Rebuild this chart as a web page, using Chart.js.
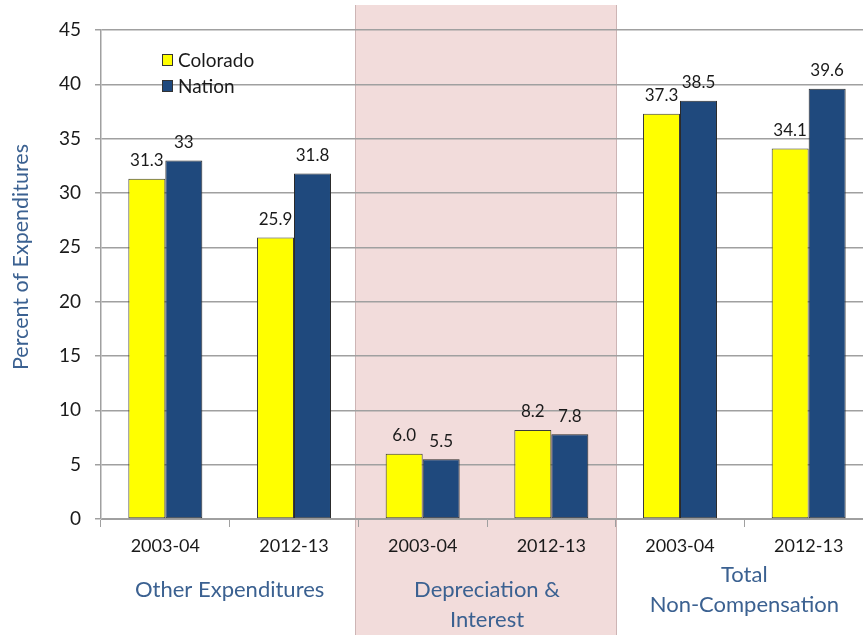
<!DOCTYPE html>
<html>
<head>
<meta charset="utf-8">
<script src="https://cdn.jsdelivr.net/npm/chart.js@4"></script>
<style>
  html, body { margin: 0; padding: 0; background: #fff; overflow: hidden; }
  /* la zone de trace deborde un peu a droite de la fenetre */
  #wrap { width: 873px; height: 635px; }
</style>
</head>
<body>
<div id="wrap"><canvas id="depenses"></canvas></div>
<script>
// donnees
const years = ['2003-04', '2012-13', '2003-04', '2012-13', '2003-04', '2012-13'];
const groups = [['Other Expenditures'], ['Depreciation &', 'Interest'], ['Total', 'Non-Compensation']];
const colorado = [31.3, 25.9, 6.0, 8.2, 37.3, 34.1];
const nation = [33, 31.8, 5.5, 7.8, 38.5, 39.6];
const decimals = [null, null, 1, 1, null, null]; // affichage des etiquettes
const yTicks = [0, 5, 10, 15, 20, 25, 30, 35, 40, 45];

const FONT = 'Lato, "DejaVu Sans", sans-serif';
const BLUE_TXT = '#3b6191';

function fmt(v, i) {
    return decimals[i] === null ? String(v) : v.toFixed(decimals[i]);
}

// bande rose derriere le groupe du milieu
const bandPlugin = {
    id: 'band',
    beforeDraw(chart) {
        const x = chart.scales.x;
        const half = (x.getPixelForValue(1) - x.getPixelForValue(0)) / 2;
        const left = Math.round(x.getPixelForValue(2) - half - 3);
        const right = Math.round(x.getPixelForValue(3) + half);
        const ctx = chart.ctx;
        ctx.save();
        ctx.fillStyle = '#f2dcdb';
        ctx.fillRect(left, 5, right - left, chart.height - 5);
        ctx.strokeStyle = '#cdb5b5';
        ctx.lineWidth = 1;
        ctx.beginPath();
        ctx.moveTo(left + 0.5, 5); ctx.lineTo(left + 0.5, chart.height);
        ctx.moveTo(right + 0.5, 5); ctx.lineTo(right + 0.5, chart.height);
        ctx.stroke();
        ctx.restore();
    }
};

// etiquettes, legende, titres de groupes
const textPlugin = {
    id: 'texts',
    afterDatasetsDraw(chart) {
        const ctx = chart.ctx;
        ctx.save();
        ctx.fillStyle = '#1a1a1a';
        ctx.font = '17px ' + FONT;
        ctx.textAlign = 'center';
        ctx.textBaseline = 'middle';
        chart.data.datasets.forEach((ds, d) => {
            chart.getDatasetMeta(d).data.forEach((bar, i) => {
                ctx.fillText(fmt(ds.data[i], i), bar.x, bar.y - 18);
            });
        });

        // legende
        ctx.textAlign = 'left';
        ctx.font = '19px ' + FONT;
        chart.data.datasets.forEach((ds, d) => {
            const y = 60 + d * 26;
            ctx.fillStyle = ds.backgroundColor;
            ctx.fillRect(162, y - 6, 11, 12);
            ctx.strokeStyle = '#333';
            ctx.lineWidth = 1;
            ctx.strokeRect(162.5, y - 5.5, 10, 11);
            ctx.fillStyle = '#1a1a1a';
            ctx.fillText(ds.label, 178, y + 1);
        });

        // titres de groupes sous l'axe
        const x = chart.scales.x;
        ctx.fillStyle = BLUE_TXT;
        ctx.font = '22px ' + FONT;
        ctx.textAlign = 'center';
        const tops = [590, 590, 575];
        groups.forEach((lines, g) => {
            const cx = (x.getPixelForValue(g * 2) + x.getPixelForValue(g * 2 + 1)) / 2;
            lines.forEach((t, k) => ctx.fillText(t, cx, tops[g] + k * 30));
        });

        // titre de l'axe y
        ctx.translate(21, 257);
        ctx.rotate(-Math.PI / 2);
        ctx.font = '21.5px ' + FONT;
        ctx.fillText('Percent of Expenditures', 0, 0);
        ctx.restore();
    }
};

new Chart(document.getElementById('depenses'), {
    type: 'bar',
    data: {
        labels: years,
        datasets: [{
            label: 'Colorado',
            data: colorado,
            backgroundColor: '#ffff00',
            borderColor: '#3a3a3a',
            borderWidth: 1,
            borderSkipped: false,
        }, {
            label: 'Nation',
            data: nation,
            backgroundColor: '#1f497d',
            borderColor: '#2a2a2a',
            borderWidth: 1,
            borderSkipped: false,
        }]
    },
    options: {
        responsive: true,
        maintainAspectRatio: false,
        animation: false,
        layout: { padding: { top: 30, right: 0, left: 0, bottom: 0 } },
        datasets: { bar: { categoryPercentage: 0.575, barPercentage: 1.0 } },
        plugins: {
            legend: { display: false },
            tooltip: { enabled: false },
        },
        scales: {
            x: {
                grid: {
                    display: true,
                    drawOnChartArea: false,
                    drawTicks: true,
                    tickLength: 8,
                    color: '#a0a0a0',
                    offset: true,
                },
                border: { color: '#a0a0a0' },
                ticks: {
                    color: '#1a1a1a',
                    font: { family: FONT, size: 18 },
                    padding: 8,
                    maxRotation: 0,
                },
                afterFit(scale) { scale.height = 116; },
            },
            y: {
                min: 0,
                max: 45,
                afterBuildTicks(scale) { scale.ticks = yTicks.map(v => ({ value: v })); },
                grid: {
                    color: '#a0a0a0',
                    lineWidth: 1.5,
                    tickLength: 6,
                },
                border: { color: '#a0a0a0', width: 1.5 },
                ticks: {
                    color: '#1a1a1a',
                    font: { family: FONT, size: 19 },
                    padding: 14,
                },
                afterFit(scale) { scale.width = 101; },
            },
        },
    },
    plugins: [bandPlugin, textPlugin],
});
</script>
</body>
</html>
